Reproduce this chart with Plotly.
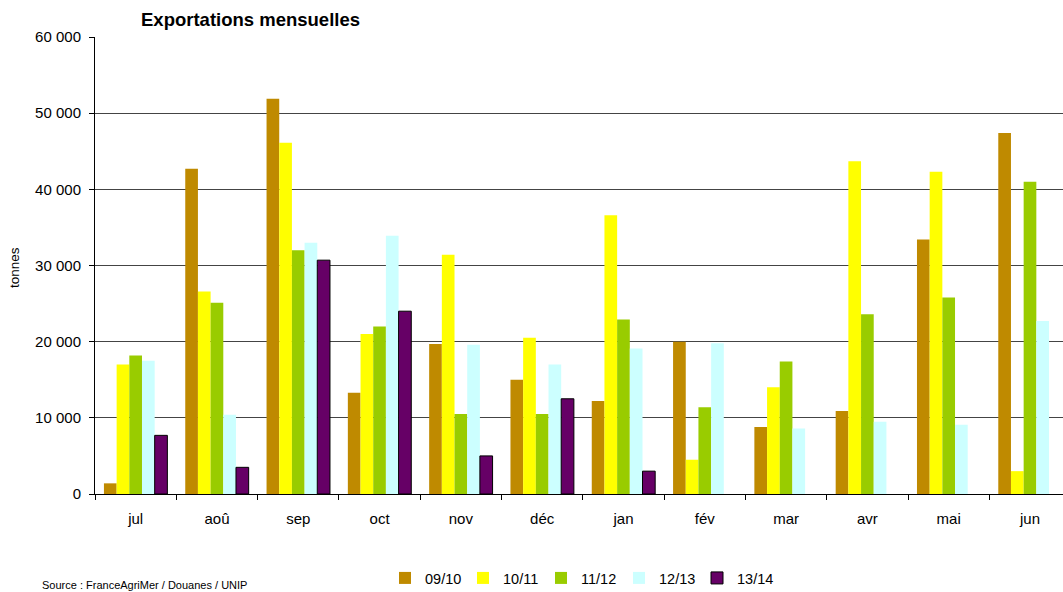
import plotly.graph_objects as go

months = ["jul", "aoû", "sep", "oct", "nov", "déc", "jan", "fév", "mar", "avr", "mai", "jun"]
seasons = ["09/10", "10/11", "11/12", "12/13", "13/14"]

s0910 = [1400, 42700, 51900, 13300, 19700, 15000, 12200, 20000, 8800, 10900, 33400, 47400]
s1011 = [17000, 26600, 46100, 21000, 31400, 20500, 36600, 4500, 14000, 43700, 42300, 3000]
s1112 = [18200, 25100, 32000, 22000, 10500, 10500, 22900, 11400, 17400, 23600, 25800, 41000]
s1213 = [17500, 10400, 33000, 33900, 19600, 17000, 19100, 19800, 8600, 9500, 9100, 22700]
s1314 = [7700, 3500, 30700, 24000, 5000, 12500, 3000, None, None, None, None, None]

colors = ["#BF8A00", "#FFFF00", "#99CC00", "#CCFFFF", "#660066"]
series = [s0910, s1011, s1112, s1213, s1314]

FONT = "Liberation Sans, Arial, sans-serif"
L, T, B = 95, 37, 494  # plot area pixel edges
PH = B - T
PW = 1063 - L

fig = go.Figure()
for name, vals, col in zip(seasons, series, colors):
    outline = 1 if name == "13/14" else 0
    fig.add_trace(go.Bar(
        name=name, x=months, y=vals,
        marker=dict(color=col, line=dict(color="black", width=outline)),
    ))

fig.update_layout(
    width=1063, height=592,
    margin=dict(l=L, r=0, t=T, b=592 - B, autoexpand=False),
    paper_bgcolor="white", plot_bgcolor="white",
    font=dict(family=FONT, size=15, color="black"),
    barmode="group", bargap=0.22, bargroupgap=0,
    separators=", ",
    showlegend=True,
    legend=dict(orientation="h", x=(580 - L) / PW, xanchor="center",
                y=(B - 562) / PH, yanchor="top",
                font=dict(size=14.5), itemwidth=30, entrywidth=33, traceorder="normal"),
)
fig.update_xaxes(
    type="category", range=[-0.5, 11.406],
    showline=True, linecolor="black", linewidth=1,
    ticks="outside", ticklen=5, tickcolor="black", tickson="boundaries",
    showgrid=False, tickfont=dict(size=15), ticklabelstandoff=11,
)
fig.update_yaxes(
    range=[0, 60000], dtick=10000, tickformat=",.0f",
    showline=True, linecolor="black", linewidth=1,
    ticks="outside", ticklen=5, tickcolor="black",
    showgrid=True, gridcolor="#444444", gridwidth=1,
    zeroline=False, tickfont=dict(size=15), ticklabelstandoff=5,
)
fig.add_annotation(text="<b>Exportations mensuelles</b>", xref="paper", yref="paper",
                   x=(139 - L) / PW, y=(B - 20) / PH, xanchor="left", yanchor="middle",
                   showarrow=False, font=dict(size=18.5))
fig.add_annotation(text="tonnes", textangle=-90, xref="paper", yref="paper",
                   x=(14 - L) / PW, y=(B - 268) / PH, showarrow=False, font=dict(size=13.5),
                   xanchor="center", yanchor="middle")
fig.add_annotation(text="Source : FranceAgriMer / Douanes / UNIP", xref="paper", yref="paper",
                   x=(40 - L) / PW, y=(B - 577) / PH, xanchor="left", yanchor="top",
                   showarrow=False, font=dict(size=11))
fig.write_html("out.html", post_script="document.body.style.margin='0';",
               config={"displayModeBar": False})
